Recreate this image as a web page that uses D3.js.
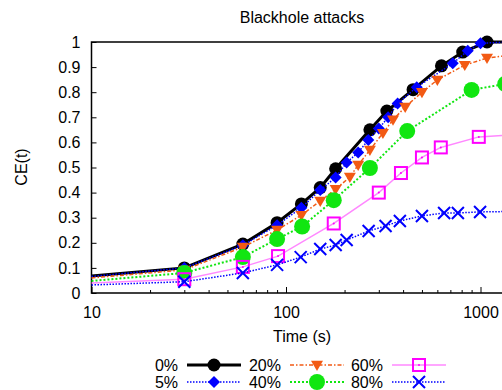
<!DOCTYPE html>
<html>
<head>
<meta charset="utf-8">
<script src="https://d3js.org/d3.v7.min.js"></script>
<style>
  body { margin: 0; background: #fff; }
  text { font-family: "Liberation Sans", Arial, sans-serif; }
</style>
</head>
<body>
<div id="chart"></div>
<script>
// series data (time in s, CE value)
var time0 = [10, 30, 60, 90, 120, 150, 180, 270, 330, 450, 630, 810, 1080, 1500];
var ce0 = [0.068, 0.10, 0.195, 0.28, 0.355, 0.42, 0.495, 0.65, 0.725, 0.81, 0.905, 0.96, 1.0, 1.0];

var time5 = [10, 30, 60, 90, 120, 150, 180, 205, 235, 265, 300, 335, 375, 470, 720, 860, 1000, 1400];
var ce5 = [0.066, 0.10, 0.19, 0.27, 0.34, 0.41, 0.46, 0.52, 0.56, 0.61, 0.655, 0.70, 0.755, 0.82, 0.915, 0.965, 0.995, 1.0];

var time20 = [10, 30, 60, 90, 120, 150, 180, 213, 235, 270, 315, 355, 410, 500, 600, 830, 1080, 1500];
var ce20 = [0.06, 0.092, 0.183, 0.251, 0.31, 0.367, 0.414, 0.462, 0.51, 0.57, 0.637, 0.69, 0.741, 0.80, 0.849, 0.908, 0.936, 0.95];

var time40 = [10, 30, 60, 90, 121, 176, 270, 420, 900, 1340];
var ce40 = [0.048, 0.08, 0.143, 0.215, 0.265, 0.37, 0.498, 0.645, 0.809, 0.833];

var time60 = [10, 30, 60, 91, 176, 300, 390, 500, 625, 980, 1500];
var ce60 = [0.04, 0.055, 0.104, 0.147, 0.277, 0.40, 0.478, 0.54, 0.58, 0.622, 0.63];

var time80 = [10, 30, 60, 90, 119, 150, 180, 205, 266, 325, 385, 500, 650, 765, 995, 1500];
var ce80 = [0.032, 0.045, 0.08, 0.112, 0.143, 0.175, 0.191, 0.211, 0.247, 0.267, 0.287, 0.307, 0.319, 0.319, 0.323, 0.325];

var labels = ["0%", "5%", "20%", "40%", "60%", "80%"];
var yTicks = [0, 0.1, 0.2, 0.3, 0.4, 0.5, 0.6, 0.7, 0.8, 0.9, 1];
var xTicks = [10, 100, 1000];

var svgWidth = 502;
var svgHeight = 390;

var margin = { top: 42, left: 91.5, bottom: 97 };
var height = svgHeight - margin.top - margin.bottom;

var svg = d3.select("#chart")
  .append("svg")
  .attr("width", svgWidth)
  .attr("height", svgHeight);

var chartGroup = svg.append("g")
  .attr("transform", `translate(${margin.left}, ${margin.top})`);

// log x scale, one decade ~194.5px
var xScale = d3.scaleLog()
  .domain([10, 1000])
  .range([0, 389]);

var yScale = d3.scaleLinear()
  .domain([0, 1])
  .range([height, 0]);

var series = [
  { t: time0, v: ce0, color: "#000", lw: 3, dash: null, mark: "circle", size: 6.5 },
  { t: time5, v: ce5, color: "#0000ff", lw: 1.5, dash: "1.5,1.5", mark: "diamond", size: 6 },
  { t: time20, v: ce20, color: "#f25a14", lw: 1.5, dash: "4,2,1.5,2", mark: "triangle", size: 6 },
  { t: time40, v: ce40, color: "#11e611", lw: 2, dash: "2,2", mark: "bigcircle", size: 8 },
  { t: time60, v: ce60, color: "#ff00ff", line: "#ff88ff", lw: 1.5, dash: null, mark: "square", size: 6 },
  { t: time80, v: ce80, color: "#0000ff", lw: 1.5, dash: "1.5,1.5", mark: "cross", size: 6 }
];

// axes with inward ticks
chartGroup.append("g")
  .attr("transform", `translate(0, ${height})`)
  .call(d3.axisBottom(xScale).tickValues(xTicks).tickSize(-6).tickPadding(14).tickFormat(d3.format("d")))
  .call(g => g.select(".domain").remove())
  .call(g => g.selectAll("text").attr("font-size", "16px").attr("font-family", "Liberation Sans, Arial, sans-serif"));

var minor = [];
[10, 100, 1000].forEach(function(b) {
  for (var k = 2; k <= 9; k++) minor.push(b * k);
});
chartGroup.append("g")
  .attr("transform", `translate(0, ${height})`)
  .call(d3.axisBottom(xScale).tickValues(minor).tickSize(-3).tickFormat(""))
  .call(g => g.select(".domain").remove());

chartGroup.append("g")
  .call(d3.axisLeft(yScale).tickValues(yTicks).tickSize(-5).tickPadding(11).tickFormat(d => d))
  .call(g => g.select(".domain").remove())
  .call(g => g.selectAll("text").attr("font-size", "16px").attr("font-family", "Liberation Sans, Arial, sans-serif"));

// border
chartGroup.append("path")
  .attr("d", `M430,0 H0 V${height} H430`)
  .attr("fill", "none")
  .attr("stroke", "#000")
  .attr("stroke-width", 1.5);

function drawMark(g, type, x, y, s, color) {
  if (type === "circle" || type === "bigcircle") {
    g.append("circle").attr("cx", x).attr("cy", y).attr("r", s).attr("fill", color);
  } else if (type === "diamond") {
    g.append("path").attr("d", `M${x},${y - s} L${x + s},${y} L${x},${y + s} L${x - s},${y} Z`).attr("fill", color);
  } else if (type === "triangle") {
    g.append("path").attr("d", `M${x - s},${y - s * 0.7} L${x + s},${y - s * 0.7} L${x},${y + s} Z`).attr("fill", color);
  } else if (type === "square") {
    g.append("rect").attr("x", x - s).attr("y", y - s).attr("width", 2 * s).attr("height", 2 * s)
      .attr("fill", "none").attr("stroke", color).attr("stroke-width", 2);
    g.append("circle").attr("cx", x).attr("cy", y).attr("r", 1).attr("fill", color);
  } else if (type === "cross") {
    g.append("path").attr("d", `M${x - s},${y - s} L${x + s},${y + s} M${x - s},${y + s} L${x + s},${y - s}`)
      .attr("stroke", color).attr("stroke-width", 2);
  }
}

var line = d3.line()
  .x(d => xScale(d[0]))
  .y(d => yScale(d[1]));

series.forEach(function(s) {
  var pts = s.t.map((t, i) => [t, s.v[i]]);
  var g = chartGroup.append("g");
  g.append("path")
    .datum(pts)
    .attr("d", line)
    .attr("fill", "none")
    .attr("stroke", s.line || s.color)
    .attr("stroke-width", s.lw)
    .attr("stroke-dasharray", s.dash);
  pts.filter(p => p[0] > 10).forEach(function(p) {
    drawMark(g, s.mark, xScale(p[0]), yScale(p[1]), s.size, s.color);
  });
});

// titles
svg.append("text")
  .attr("x", 302)
  .attr("y", 23)
  .attr("text-anchor", "middle")
  .attr("font-size", "16px")
  .text("Blackhole attacks");

svg.append("text")
  .attr("transform", "translate(27, 167) rotate(-90)")
  .attr("text-anchor", "middle")
  .attr("font-size", "16px")
  .text("CE(t)");

svg.append("text")
  .attr("x", 302)
  .attr("y", 342)
  .attr("text-anchor", "middle")
  .attr("font-size", "16px")
  .text("Time (s)");

// legend, two rows, filled column by column
var legend = svg.append("g");
series.forEach(function(s, i) {
  var col = Math.floor(i / 2);
  var row = i % 2;
  var lx = [178, 281, 383][col];
  var ly = 365 + row * 17;
  legend.append("text")
    .attr("x", lx)
    .attr("y", ly + 6)
    .attr("text-anchor", "end")
    .attr("font-size", "16px")
    .text(labels[i]);
  legend.append("line")
    .attr("x1", lx + 9).attr("x2", lx + 63)
    .attr("y1", ly).attr("y2", ly)
    .attr("stroke", s.line || s.color)
    .attr("stroke-width", s.lw)
    .attr("stroke-dasharray", s.dash);
  drawMark(legend, s.mark, lx + 36, ly, s.size, s.color);
});
</script>
</body>
</html>
